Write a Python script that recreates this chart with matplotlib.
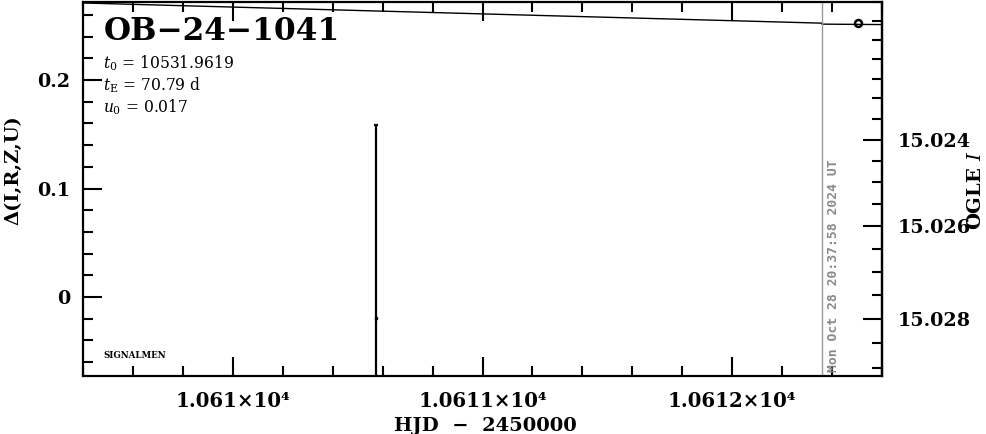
import numpy as np
import matplotlib
matplotlib.use('Agg')
import matplotlib.pyplot as plt
from matplotlib.ticker import MultipleLocator, FuncFormatter, FixedLocator

# ---------------- data ----------------
obj_name = "OB\u221224\u22121041"
param_labels = [r"$t_0$ = 10531.9619", r"$t_{\rm E}$ = 70.79 d", r"$u_0$ = 0.017"]
x_range = [10609.4, 10612.6]
y_range = [-0.0728, 0.2719]
model_t = [10609.4, 10612.36]
model_d = [0.2710, 0.2524]
model2_t = [10612.36, 10612.6]
model2_d = [0.2515, 0.2511]
obs_t = [10612.504]
obs_d = [0.2525]
err_t = [10610.572]
err_d = [-0.0194]
err_e = [0.178]
now_t = 10612.36
now_label = "Mon Oct 28 20:37:58 2024 UT"
mag_ticks = [15.024, 15.026, 15.028]
mag_zero = 15.021705
mag_scale = 0.0649
mag_c = 1.23

plt.rcParams['mathtext.fontset'] = 'dejavuserif'
SERIF = ['DejaVu Serif', 'DejaVu Sans']

fig = plt.figure(figsize=(9.86, 4.34), dpi=100)
ax = fig.add_axes([83/986, 58/434, 799/986, 374/434])

ax.plot(model_t, model_d, color='black', lw=1.0)
ax.plot(model2_t, model2_d, color='black', lw=1.0)
ax.errorbar(err_t, err_d, yerr=err_e, fmt='s', ms=1.5, color='black',
            ecolor='black', elinewidth=1.6, capsize=1.2, capthick=1.6)
ax.plot(obs_t, obs_d, 'o', ms=5, mfc='none', mec='black', mew=1.8)
ax.axvline(now_t, color='#999999', lw=1.0)

ax.set_xlim(x_range)
ax.set_ylim(y_range)

for s in ax.spines.values():
    s.set_linewidth(1.6)

ax.xaxis.set_major_locator(MultipleLocator(1))
ax.xaxis.set_minor_locator(MultipleLocator(0.2))
ax.yaxis.set_major_locator(MultipleLocator(0.1))
ax.yaxis.set_minor_locator(MultipleLocator(0.02))
ax.xaxis.set_major_formatter(FuncFormatter(lambda v, p: f"{v/1e4:.5g}\u00d710\u2074"))
ax.yaxis.set_major_formatter(FuncFormatter(lambda v, p: f"{v:.1f}" if abs(v) > 1e-9 else "0"))
ax.tick_params(which='both', direction='in', top=True, right=False, width=1.5)
ax.tick_params(which='major', length=14)
ax.tick_params(which='minor', length=7)
ax.tick_params(axis='x', which='major', pad=11)
ax.tick_params(axis='y', which='major', pad=9)
for lab in ax.get_xticklabels():
    lab.set_family(SERIF)
    lab.set_fontsize(14.2)
    lab.set_fontweight('bold')
for lab in ax.get_yticklabels():
    lab.set_family(SERIF)
    lab.set_fontsize(13.8)
    lab.set_fontweight('bold')

def d2m(d):
    d = np.asarray(d, dtype=float)
    return mag_zero + mag_scale * np.log10(np.clip(mag_c - d, 1e-6, None))

def m2d(m):
    m = np.asarray(m, dtype=float)
    return mag_c - 10 ** ((m - mag_zero) / mag_scale)

sec = ax.secondary_yaxis('right', functions=(d2m, m2d))
sec.spines['right'].set_linewidth(1.6)
sec.yaxis.set_major_locator(FixedLocator(mag_ticks))
sec.yaxis.set_minor_locator(MultipleLocator(0.0005))
sec.yaxis.set_major_formatter(FuncFormatter(lambda v, p: f"{v:.3f}"))
sec.tick_params(which='both', direction='in', width=1.5)
sec.tick_params(which='major', length=14, pad=11)
sec.tick_params(which='minor', length=7)
for lab in sec.get_yticklabels():
    lab.set_family(SERIF)
    lab.set_fontsize(13.8)
    lab.set_fontweight('bold')

ax.set_xlabel("HJD  \u2212  2450000", family=SERIF, fontsize=14, fontweight='bold')
ax.xaxis.set_label_coords(0.503, -0.11)
ax.xaxis.label.set_va('top')
ax.set_ylabel("\u0394(I,R,Z,U)", family=SERIF, fontsize=14, fontweight='bold')
ax.yaxis.set_label_coords(-0.0876, 0.551)
ax.yaxis.label.set_va('center')
sec.set_ylabel(r"OGLE $I$", family=SERIF, fontsize=14, fontweight='bold', rotation=90)
sec.yaxis.set_label_coords(1.1176, 0.497, transform=ax.transAxes)
sec.yaxis.label.set_va('center')
sec.yaxis.label.set_ha('center')

ax.text((104-83)/799, (376-31)/374, obj_name, transform=ax.transAxes,
        family=SERIF, fontsize=22.5, fontweight='bold', ha='left', va='center')
for i, lab in enumerate(param_labels):
    ax.text((103-83)/799, (376-(63 + 22*i))/374, lab, transform=ax.transAxes,
            family=SERIF, fontsize=11.2, ha='left', va='center')
ax.text((103-83)/799, (376-355)/374, "SIGNALMEN", transform=ax.transAxes,
        family=SERIF, fontsize=6.2, fontweight='bold', ha='left', va='center')

ax.annotate(now_label, xy=(now_t, (376-372)/374), xycoords=ax.get_xaxis_transform(),
            xytext=(3.2, 0), textcoords='offset points',
            rotation=90, color='#888888', family=['DejaVu Sans Mono'], fontweight='bold',
            fontsize=9.4, ha='left', va='bottom')

fig.savefig('out.png', dpi=100)
